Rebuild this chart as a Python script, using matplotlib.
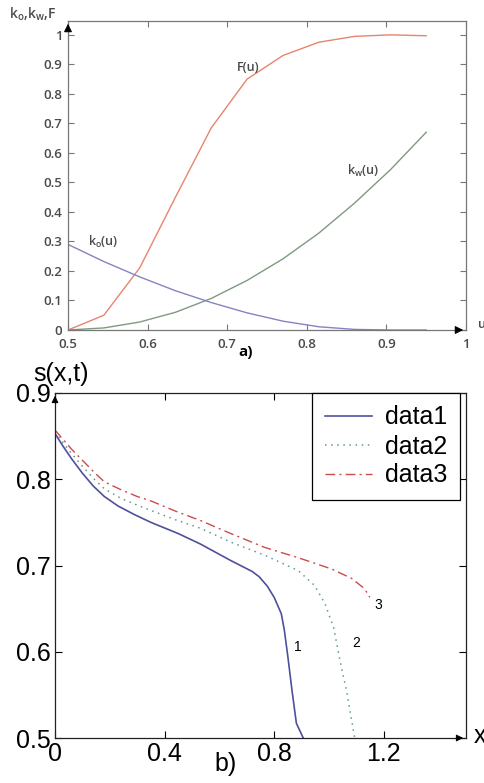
import matplotlib
matplotlib.use("Agg")
import matplotlib.pyplot as plt
import numpy as np

# panel a) relative permeabilities and fractional flow
u = [0.5, 0.545, 0.59, 0.635, 0.68, 0.725, 0.77, 0.815, 0.86, 0.905, 0.95]
F_u = [0.0, 0.05, 0.21, 0.45, 0.685, 0.85, 0.93, 0.975, 0.995, 1.0, 0.997]
kw_u = [0.0, 0.007, 0.027, 0.06, 0.107, 0.168, 0.241, 0.328, 0.43, 0.543, 0.67]
ko_u = [0.29, 0.232, 0.18, 0.133, 0.093, 0.058, 0.030, 0.011, 0.002, 0.0, 0.0]
a_xticks = [0.5, 0.6, 0.7, 0.8, 0.9, 1.0]
a_xticklabels = ["0.5", "0.6", "0.7", "0.8", "0.9", "1"]
a_yticks = [0, 0.1, 0.2, 0.3, 0.4, 0.5, 0.6, 0.7, 0.8, 0.9, 1.0]
a_yticklabels = ["0", "0.1", "0.2", "0.3", "0.4", "0.5", "0.6", "0.7", "0.8", "0.9", "1"]

# panel b) saturation profiles
x1 = [0, 0.03, 0.06, 0.1, 0.14, 0.18, 0.23, 0.29, 0.35, 0.45, 0.53, 0.64, 0.72, 0.745,
      0.775, 0.80, 0.826, 0.837, 0.85, 0.865, 0.881, 0.906]
s1 = [0.853, 0.838, 0.824, 0.807, 0.792, 0.780, 0.769, 0.759, 0.750, 0.737, 0.725, 0.706,
      0.693, 0.687, 0.676, 0.663, 0.644, 0.625, 0.594, 0.555, 0.517, 0.5]
x2 = [0, 0.03, 0.06, 0.1, 0.14, 0.18, 0.24, 0.3, 0.349, 0.44, 0.532, 0.642, 0.765, 0.888,
      0.947, 0.985, 1.017, 1.035, 1.05, 1.064, 1.08, 1.094]
s2 = [0.855, 0.842, 0.830, 0.815, 0.801, 0.789, 0.778, 0.770, 0.764, 0.753, 0.743, 0.727,
      0.712, 0.694, 0.677, 0.656, 0.628, 0.598, 0.575, 0.555, 0.525, 0.5]
x3 = [0, 0.03, 0.06, 0.1, 0.14, 0.18, 0.24, 0.3, 0.349, 0.44, 0.532, 0.642, 0.765, 0.888,
      1.009, 1.083, 1.13, 1.149]
s3 = [0.857, 0.846, 0.835, 0.822, 0.809, 0.797, 0.788, 0.780, 0.775, 0.763, 0.752, 0.737,
      0.721, 0.709, 0.696, 0.685, 0.673, 0.663]
b_xticks = [0, 0.4, 0.8, 1.2]
b_xticklabels = ["0", "0.4", "0.8", "1.2"]
b_yticks = [0.5, 0.6, 0.7, 0.8, 0.9]
b_yticklabels = ["0.5", "0.6", "0.7", "0.8", "0.9"]

W, H = 485, 783
fig = plt.figure(figsize=(W / 100, H / 100), dpi=100)


def fx(px):
    return px / W


def fy(py):
    return 1 - py / H


top_font = dict(family=["Open Sans", "DejaVu Sans"], weight="semibold", color="#4a4a4a")
bot_font = dict(family=["Liberation Sans", "DejaVu Sans"], color="black")

# ---------- panel a ----------
ax1 = fig.add_axes([fx(68), fy(330), fx(466) - fx(68), fy(21) - fy(330)])
ax1.plot(u, F_u, color="#e8846e", lw=1.0)
ax1.plot(u, kw_u, color="#7f9a80", lw=1.0)
ax1.plot(u, ko_u, color="#8484c0", lw=1.0)
ax1.set_xlim(0.5, 1.0)
ax1.set_ylim(0, 1.047)
ax1.set_xticks(a_xticks)
ax1.set_xticklabels(a_xticklabels)
ax1.set_yticks(a_yticks)
ax1.set_yticklabels(a_yticklabels)
ax1.tick_params(direction="in", top=True, right=True, length=4, width=0.8,
                colors="#777777", labelcolor="#4a4a4a")
ax1.tick_params(axis="x", pad=6)
ax1.tick_params(axis="y", pad=4)
for lab in ax1.get_xticklabels() + ax1.get_yticklabels():
    lab.set_fontfamily(["Open Sans", "DejaVu Sans"])
    lab.set_fontweight("semibold")
    lab.set_fontsize(9.5)
for sp in ax1.spines.values():
    sp.set_color("#777777")
    sp.set_linewidth(0.9)
ax1.annotate("", xy=(0, 1), xytext=(0, 0.96), xycoords="axes fraction",
             arrowprops=dict(arrowstyle="-|>", color="black", lw=0.8, mutation_scale=12))
ax1.annotate("", xy=(1, 0), xytext=(0.97, 0), xycoords="axes fraction",
             arrowprops=dict(arrowstyle="-|>", color="black", lw=0.8, mutation_scale=12))
ax1.text(0.726, 0.888, "F(u)", fontsize=9, ha="center", va="center", **top_font)
ax1.text(0.544, 0.30, r"k$_\mathregular{o}$(u)", fontsize=9, ha="center", va="center", **top_font)
ax1.text(0.871, 0.54, r"k$_\mathregular{w}$(u)", fontsize=9, ha="center", va="center", **top_font)
fig.text(fx(33), fy(14), r"k$_\mathregular{o}$,k$_\mathregular{w}$,F", fontsize=10,
         ha="center", va="center", **top_font)
fig.text(fx(478), fy(325), "u", fontsize=9, ha="left", va="center", **top_font)
fig.text(fx(246), fy(352), "a)", fontsize=11, ha="center", va="center",
         family=["Open Sans", "DejaVu Sans"], weight="bold", color="black")

# ---------- panel b ----------
ax2 = fig.add_axes([fx(55), fy(738), fx(466) - fx(55), fy(393) - fy(738)])
ax2.plot(x1, s1, color="#4f4f9e", lw=1.2, label="data1")
ax2.plot(x2, s2, color="#5f9a90", lw=1.1, dashes=(1, 3), label="data2")
ax2.plot(x3, s3, color="#cc4b4b", lw=1.0, dashes=(7, 3, 1.5, 3), label="data3")
ax2.set_xlim(0, 1.5)
ax2.set_ylim(0.5, 0.9)
ax2.set_xticks(b_xticks)
ax2.set_xticklabels(b_xticklabels)
ax2.set_yticks(b_yticks)
ax2.set_yticklabels(b_yticklabels)
ax2.tick_params(direction="in", top=True, right=True, length=5, width=0.8, pad=3)
for lab in ax2.get_xticklabels() + ax2.get_yticklabels():
    lab.set_fontfamily(["Liberation Sans", "DejaVu Sans"])
    lab.set_fontsize(18)
for sp in ax2.spines.values():
    sp.set_color("#222222")
    sp.set_linewidth(0.9)
ax2.annotate("", xy=(0, 1), xytext=(0, 0.97), xycoords="axes fraction",
             arrowprops=dict(arrowstyle="-|>", color="black", lw=0.8, mutation_scale=10))
ax2.annotate("", xy=(1, 0), xytext=(0.97, 0), xycoords="axes fraction",
             arrowprops=dict(arrowstyle="-|>", color="black", lw=0.8, mutation_scale=10))
leg = ax2.legend(loc="upper right", bbox_to_anchor=(0.985, 1.0), borderaxespad=0,
                 fancybox=False, framealpha=1, edgecolor="black", handlelength=1.9,
                 labelspacing=0.2, borderpad=0.5, handletextpad=0.5,
                 prop={"family": ["Liberation Sans", "DejaVu Sans"], "size": 18})
leg.get_frame().set_linewidth(0.9)
ax2.text(0.888, 0.605, "1", fontsize=10, ha="center", va="center", **bot_font)
ax2.text(1.10, 0.61, "2", fontsize=10, ha="center", va="center", **bot_font)
ax2.text(1.18, 0.654, "3", fontsize=10, ha="center", va="center", **bot_font)
fig.text(fx(61), fy(374), "s(x,t)", fontsize=18, ha="center", va="center", **bot_font)
fig.text(fx(226), fy(764), "b)", fontsize=18, ha="center", va="center", **bot_font)
fig.text(fx(474), fy(736), "x", fontsize=18, ha="left", va="center", **bot_font)

fig.savefig("out.png", dpi=100)
